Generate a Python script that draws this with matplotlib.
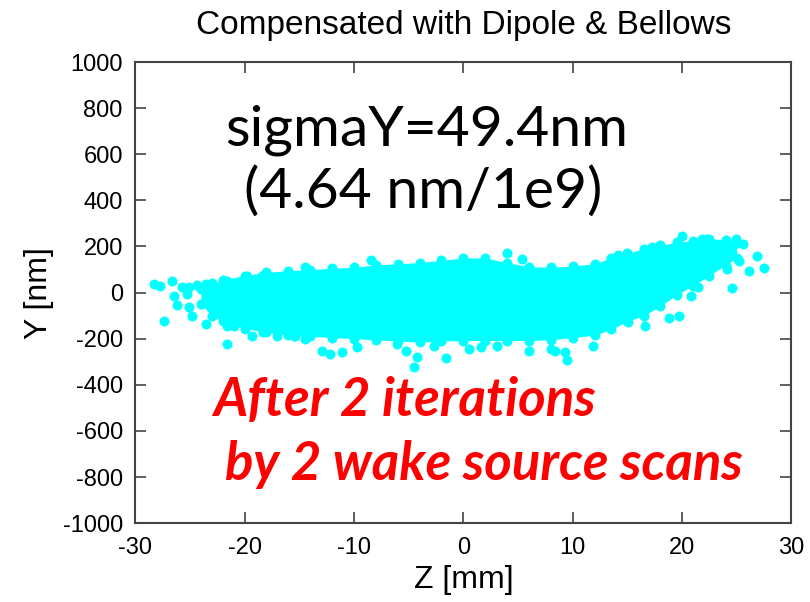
import numpy as np
import matplotlib.pyplot as plt

# dense core of the particle cloud: visible upper / lower edge vs Z
z_core = [-24, -23, -22, -20, -18, -16, -14, -12, -10, -8, -6, -4, -2, 0, 2, 4, 6,
          8, 10, 12, 13.5, 15, 16.5, 18, 19.5, 21, 22.5, 24, 25]
y_upper = [15, 40, 55, 74, 88, 95, 100, 105, 110, 120, 125, 130, 140, 150, 150, 130,
           112, 110, 115, 125, 150, 170, 190, 205, 218, 225, 233, 230, 215]
y_lower = [-50, -100, -125, -156, -172, -185, -190, -195, -200, -205, -210, -215, -210,
           -208, -208, -208, -208, -205, -195, -185, -160, -125, -100, -60, -10,
           30, 74, 120, 150]

# scattered particles outside the core
z_out = [-28.3, -27.7, -26.6, -26.5, -26.2, -27.4, -25.7, -25.1, -24.4, -25.1,
         -24.8, -25.3, -23.5, -23.5, -21.6, -21.6, -21.0, -21.6, -19.8, -21.6,
         -19.3, -18.3, -17.0, -15.5, -18.4,
         -14.5, -8.4, -15.4, -14.5, -12.9, -12.2, -11.1, -9.7, -5.2, -4.2, -4.5,
         -1.6, -6.1, -2.7,
         4.0, 5.4, 0.5, 1.6, 6.0, 8.0, 8.4, 9.3, 9.5, 11.9, 3.1,
         20.0, 21.8, 22.3, 24.9, 25.6, 26.9, 27.5, 26.1, 24.6, 24.1, 25.2, 19.7,
         18.8, 20.8, 21.5, 16.6, 15.1, 14.1, 17.3]
y_out = [38, 27, 52, -13, -52, -122, 23, 23, 33, -64,
         -100, -6, 38, -136, -107, -143, -143, -223, 74, 52,
         -187, -172, -187, -187, 74,
         110, 143, -187, -201, -252, -266, -259, -237, -252, -281, -324,
         -285, -223, -230,
         172, 146, -244, -237, -252, -244, -252, -259, -291, -230, -230,
         247, 233, 233, 233, 211, 158, 105, 95, 19, 103, 139, -100,
         -111, -16, 23, -143, -129, 161, 197]

x_ticks = [-30, -20, -10, 0, 10, 20, 30]
y_ticks = list(range(-1000, 1001, 200))

cyan = '#00ffff'
plt.rcParams['font.family'] = ['Liberation Sans', 'DejaVu Sans']
plt.rcParams['axes.unicode_minus'] = False

fig = plt.figure(figsize=(8.1, 6.02), dpi=100)
ax = fig.add_axes([0.167, 0.131, 0.810, 0.766])

ax.fill_between(z_core, y_lower, y_upper, color=cyan, lw=0)
ax.scatter(z_core, y_upper, s=52, color=cyan, lw=0)
ax.scatter(z_core, y_lower, s=52, color=cyan, lw=0)
ax.scatter(z_out, y_out, s=52, color=cyan, lw=0)

ax.set_xlim(-30, 30)
ax.set_ylim(-1000, 1000)
ax.set_xticks(x_ticks)
ax.set_yticks(y_ticks)
ax.tick_params(direction='in', length=8, width=1.2, top=True, right=True,
               labelsize=17, color='#444444')
ax.tick_params(axis='x', pad=10)
ax.tick_params(axis='y', pad=9)
for sp in ax.spines.values():
    sp.set_linewidth(1.5)
    sp.set_color('#444444')

ax.set_xlabel('Z [mm]', fontsize=23, labelpad=4)
ax.set_ylabel('Y [nm]', fontsize=23, labelpad=6)
ax.set_title('Compensated with Dipole & Bellows', fontsize=24, pad=20)

big = ['Lato', 'DejaVu Sans']
ax.text(-21.8, 638, 'sigmaY=49.4nm', fontsize=41, family=big,
        va='baseline', ha='left')
ax.text(-20.1, 369, '(4.64 nm/1e9)', fontsize=41, family=big,
        va='baseline', ha='left')
ax.text(-22.9, -534, 'After 2 iterations', fontsize=38, color='red',
        weight='bold', style='italic', family=big, va='baseline', ha='left')
ax.text(-21.8, -812, 'by 2 wake source scans', fontsize=38, color='red',
        weight='bold', style='italic', family=big, va='baseline', ha='left')

fig.savefig('out.png', dpi=100)
